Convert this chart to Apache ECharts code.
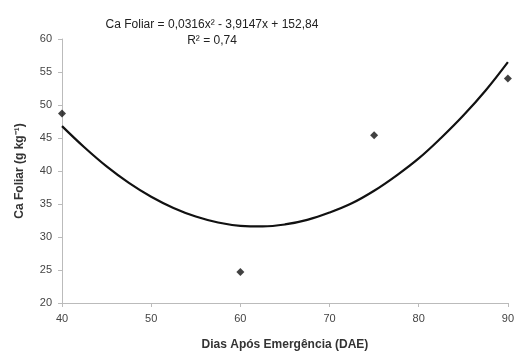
<!DOCTYPE html>
<html>
<head>
<meta charset="utf-8">
<script src="https://cdn.jsdelivr.net/npm/echarts@6/dist/echarts.min.js"></script>
<style>
  html, body { margin: 0; padding: 0; background: #fff; }
  #main { width: 517px; height: 356px; }
</style>
</head>
<body>
<div id="main"></div>
<script>
// observed points (DAE, Ca foliar)
var obsX = [40, 60, 75, 90];
var obsY = [48.7, 24.7, 45.4, 54.0];

// fitted curve
var fitX = [40, 42.5, 45, 47.5, 50, 52.5, 55, 57.5, 60, 62.5, 65, 67.5, 70, 72.5, 75, 77.5, 80, 82.5, 85, 87.5, 90];
var fitY = [46.8, 43.6, 40.7, 38.2, 36.1, 34.4, 33.1, 32.2, 31.7, 31.6, 31.9, 32.6, 33.7, 35.1, 37.0, 39.3, 41.9, 45.0, 48.4, 52.2, 56.5];

var xTicks = [40, 50, 60, 70, 80, 90];
var yTicks = [20, 25, 30, 35, 40, 45, 50, 55, 60];

var myChart = echarts.init(document.getElementById('main'));

var font = 'Liberation Sans, Arial, sans-serif';

var option = {
    animation: false,
    textStyle: { fontFamily: font },
    grid: { left: 62, right: 6, top: 39, bottom: 49 },
    graphic: [
        {
            type: 'text', x: 212, y: 19,
            style: { text: 'Ca Foliar = 0,0316x² - 3,9147x + 152,84', font: '12px ' + font, fill: '#222', textAlign: 'center' }
        },
        {
            type: 'text', x: 212, y: 35,
            style: { text: 'R² = 0,74', font: '12px ' + font, fill: '#222', textAlign: 'center' }
        }
    ],
    xAxis: {
        type: 'value',
        min: xTicks[0], max: xTicks[xTicks.length - 1], interval: 10,
        name: 'Dias Após Emergência (DAE)',
        nameLocation: 'middle', nameGap: 36,
        nameTextStyle: { fontWeight: 'bold', fontSize: 12, color: '#333' },
        axisLine: { lineStyle: { color: '#bbb' } },
        axisTick: { show: true, length: 4, lineStyle: { color: '#bbb' } },
        axisLabel: { color: '#444', fontSize: 11, margin: 10 },
        splitLine: { show: false }
    },
    yAxis: {
        type: 'value',
        min: yTicks[0], max: yTicks[yTicks.length - 1], interval: 5,
        name: 'Ca Foliar (g kg⁻¹)',
        nameLocation: 'middle', nameGap: 36,
        nameTextStyle: { fontWeight: 'bold', fontSize: 12, color: '#333' },
        axisLine: { show: true, lineStyle: { color: '#bbb' } },
        axisTick: { show: true, length: 4, lineStyle: { color: '#bbb' } },
        axisLabel: { color: '#444', fontSize: 11, margin: 10 },
        splitLine: { show: false }
    },
    series: [
        {
            type: 'line',
            smooth: 0.4,
            showSymbol: false,
            lineStyle: { color: '#111', width: 2.2 },
            data: fitX.map(function (x, i) { return [x, fitY[i]]; }),
            z: 2
        },
        {
            type: 'scatter',
            symbol: 'diamond',
            symbolSize: 8,
            itemStyle: { color: '#111' },
            data: obsX.map(function (x, i) { return [x, obsY[i]]; }),
            z: 3
        }
    ]
};

option && myChart.setOption(option);
</script>
</body>
</html>
